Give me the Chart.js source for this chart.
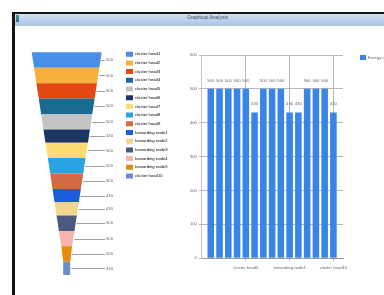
<!DOCTYPE html>
<html><head><meta charset="utf-8">
<script src="https://cdn.jsdelivr.net/npm/chart.js@4.4.1/dist/chart.umd.min.js"></script>
<style>
html,body{margin:0;padding:0;width:384px;height:295px;overflow:hidden;background:#fff;}
#wrap{position:absolute;left:0;top:0;width:384px;height:295px;filter:blur(0.45px);}
.abs{position:absolute;}
#bl{left:12px;top:12px;width:3px;height:283px;background:#151515;}
#bt{left:12px;top:12px;width:372px;height:1.5px;background:#151515;}
#tb{left:15px;top:13.5px;width:369px;height:12.5px;background:linear-gradient(#d3e1f3,#aac3e4);}
#tt{left:15px;top:13.5px;width:385px;height:12.5px;line-height:12.5px;text-align:center;font:5px "Liberation Sans",Arial,sans-serif;color:#4a4a55;}
#ic{left:16px;top:15px;width:2.5px;height:7px;background:linear-gradient(#3e9c7c,#2a6fa8);}
#c1{left:14px;top:27px;}
#c2{left:180px;top:27px;}
</style></head>
<body>
<div id="wrap">
<div id="bl" class="abs"></div><div id="bt" class="abs"></div>
<div id="tb" class="abs"></div><div id="tt" class="abs">Graphical Analysis</div><div id="ic" class="abs"></div>
<canvas id="c1" class="abs" width="166" height="268"></canvas>
<canvas id="c2" class="abs" width="300" height="268"></canvas>
</div>
<script>
// ---- data ----
const funnelLabels = ['cluster head1','cluster head2','cluster head3','cluster head4','cluster head5','cluster head6','cluster head7','cluster head8','cluster head9','forwarding node1','forwarding node2','forwarding node3','forwarding node4','forwarding node5','cluster head10'];
const funnelValues = [500,500,500,500,500,430,500,500,500,430,430,500,500,500,430];
const funnelColors = ['#4a8fe7','#f6b03e','#e2480f','#1b6a8f','#c3c3c3','#1c3664','#fddc72','#2aa3e3','#d46a44','#1a5fd8','#f1d589','#4b5a7c','#f4b6ae','#e58a0b','#6b8fc2'];
const barLabels = funnelLabels.slice();
const barValues = [500,500,500,500,500,430,500,500,500,430,430,500,500,500,430];
const barSeriesName = 'Energy consumption';
const yTickValues = [0,100,200,300,400,500,600];
const xTicksShown = [4,9,14];

const FAM = '"Liberation Sans", Arial, sans-serif';
const FS = 4.2;
Chart.defaults.font.family = FAM;
Chart.defaults.font.size = FS;
Chart.defaults.color = '#666';

function textW(t, size){
  const c = document.createElement('canvas').getContext('2d');
  c.font = size + 'px ' + FAM;
  return c.measureText(t).width;
}

// ---- funnel chart ----
const total = funnelValues.reduce((a,b)=>a+b,0);
const fBox = 7, fPad = 3.7;
const fMaxText = Math.max(...funnelLabels.map(t=>textW(t,FS)));
const fLegendW = fPad + fBox + FS/2 + fMaxText + 10;
const fLegendLeft = 108.3;

const funnelPlugin = {
  id:'funnelDraw',
  afterDatasetsDraw(chart, args, opts){
    const {ctx, scales:{x,y}} = chart;
    const hw = v => Math.max(opts.neck, 1 - opts.taper*v/total);
    let cum = 0;
    ctx.save();
    funnelValues.forEach((val,i)=>{
      const v0 = cum, v1 = cum + val; cum = v1;
      const y0 = y.getPixelForValue(v0), y1 = y.getPixelForValue(v1);
      const w0 = hw(v0), w1 = hw(v1);
      ctx.beginPath();
      ctx.moveTo(x.getPixelForValue(-w0), y0);
      ctx.lineTo(x.getPixelForValue(w0), y0);
      ctx.lineTo(x.getPixelForValue(w1), y1);
      ctx.lineTo(x.getPixelForValue(-w1), y1);
      ctx.closePath();
      ctx.fillStyle = funnelColors[i];
      ctx.fill();
      const ym = (y0+y1)/2;
      const xe = x.getPixelForValue(hw((v0+v1)/2));
      const xl = x.getPixelForValue(opts.labelX);
      ctx.strokeStyle = '#a0a0a0'; ctx.lineWidth = 1;
      ctx.beginPath(); ctx.moveTo(xe+1, Math.round(ym)+0.5); ctx.lineTo(xl, Math.round(ym)+0.5); ctx.stroke();
      ctx.fillStyle = '#666'; ctx.font = FS + 'px ' + FAM; ctx.textBaseline = 'middle'; ctx.textAlign='left';
      ctx.fillText(String(val), xl+1, ym);
    });
    ctx.restore();
  }
};

new Chart(document.getElementById('c1'), {
  type:'scatter',
  data:{datasets:[{label:'funnel', data:[]}]},
  options:{
    responsive:false, animation:false, devicePixelRatio:1,
    layout:{padding:{left:17.7, top:21, bottom:20, right:166 - fLegendLeft - fLegendW}},
    scales:{
      x:{type:'linear', min:-1, max:1.589, display:false},
      y:{type:'linear', min:-140, max:total, reverse:true, display:false}
    },
    plugins:{
      tooltip:{enabled:false},
      funnelDraw:{neck:0.1, taper:0.97, labelX:1.094},
      legend:{
        position:'right', align:'start', onClick:null,
        labels:{
          boxWidth:fBox, boxHeight:5, padding:fPad, color:'#666', font:{size:FS},
          generateLabels:()=>funnelLabels.map((t,i)=>({text:t, fillStyle:funnelColors[i], strokeStyle:funnelColors[i], lineWidth:0, hidden:false, index:i}))
        }
      }
    }
  },
  plugins:[funnelPlugin]
});

// ---- bar chart ----
const bLegendW = 30;
const bLegendLeft = 180;

const valueLabels = {
  id:'valueLabels',
  afterDatasetsDraw(chart){
    const {ctx} = chart;
    const meta = chart.getDatasetMeta(0);
    ctx.save();
    ctx.fillStyle = '#666'; ctx.font = FS + 'px ' + FAM;
    ctx.textAlign = 'center'; ctx.textBaseline = 'middle';
    meta.data.forEach((el,i)=>{ ctx.fillText(String(barValues[i]), el.x, el.y - 8.5); });
    ctx.restore();
  }
};

new Chart(document.getElementById('c2'), {
  type:'bar',
  data:{labels:barLabels, datasets:[{label:barSeriesName, data:barValues, backgroundColor:'#3a84e8', borderWidth:0, categoryPercentage:1, barPercentage:0.75}]},
  options:{
    responsive:false, animation:false, devicePixelRatio:1,
    layout:{padding:{left:7.9, top:28, bottom:19.6, right:300 - bLegendLeft - bLegendW}},
    scales:{
      x:{
        afterBuildTicks:s=>{ s._startValue -= 0.515; s._valueRange += 1.11; },
        grid:{offset:false, color:c=>xTicksShown.includes(c.index)?'#b8b8b8':'rgba(0,0,0,0)', tickLength:3},
        border:{display:true, color:'#999'},
        ticks:{autoSkip:false, maxRotation:0, minRotation:0, padding:4.6, color:'#666', font:{size:FS},
          callback:(v,i)=>xTicksShown.includes(i)?barLabels[i]:''}
      },
      y:{
        min:0, max:600,
        afterBuildTicks:s=>{ s.ticks = yTickValues.map(v=>({value:v})); },
        grid:{color:'#b8b8b8', tickLength:3},
        border:{display:true, color:'#d7bcbc'},
        ticks:{padding:2, color:'#666', font:{size:FS}}
      },
      y2:{
        position:'right', display:true,
        grid:{display:false, drawTicks:false}, ticks:{display:false}, border:{display:false},
        afterFit:s=>{ s.width = 17; }
      }
    },
    plugins:{
      tooltip:{enabled:false},
      legend:{position:'right', align:'start', onClick:null, maxWidth:bLegendW,
        labels:{boxWidth:6, boxHeight:5, padding:0, color:'#666', font:{size:FS}}}
    }
  },
  plugins:[valueLabels]
});
</script>
</body></html>
